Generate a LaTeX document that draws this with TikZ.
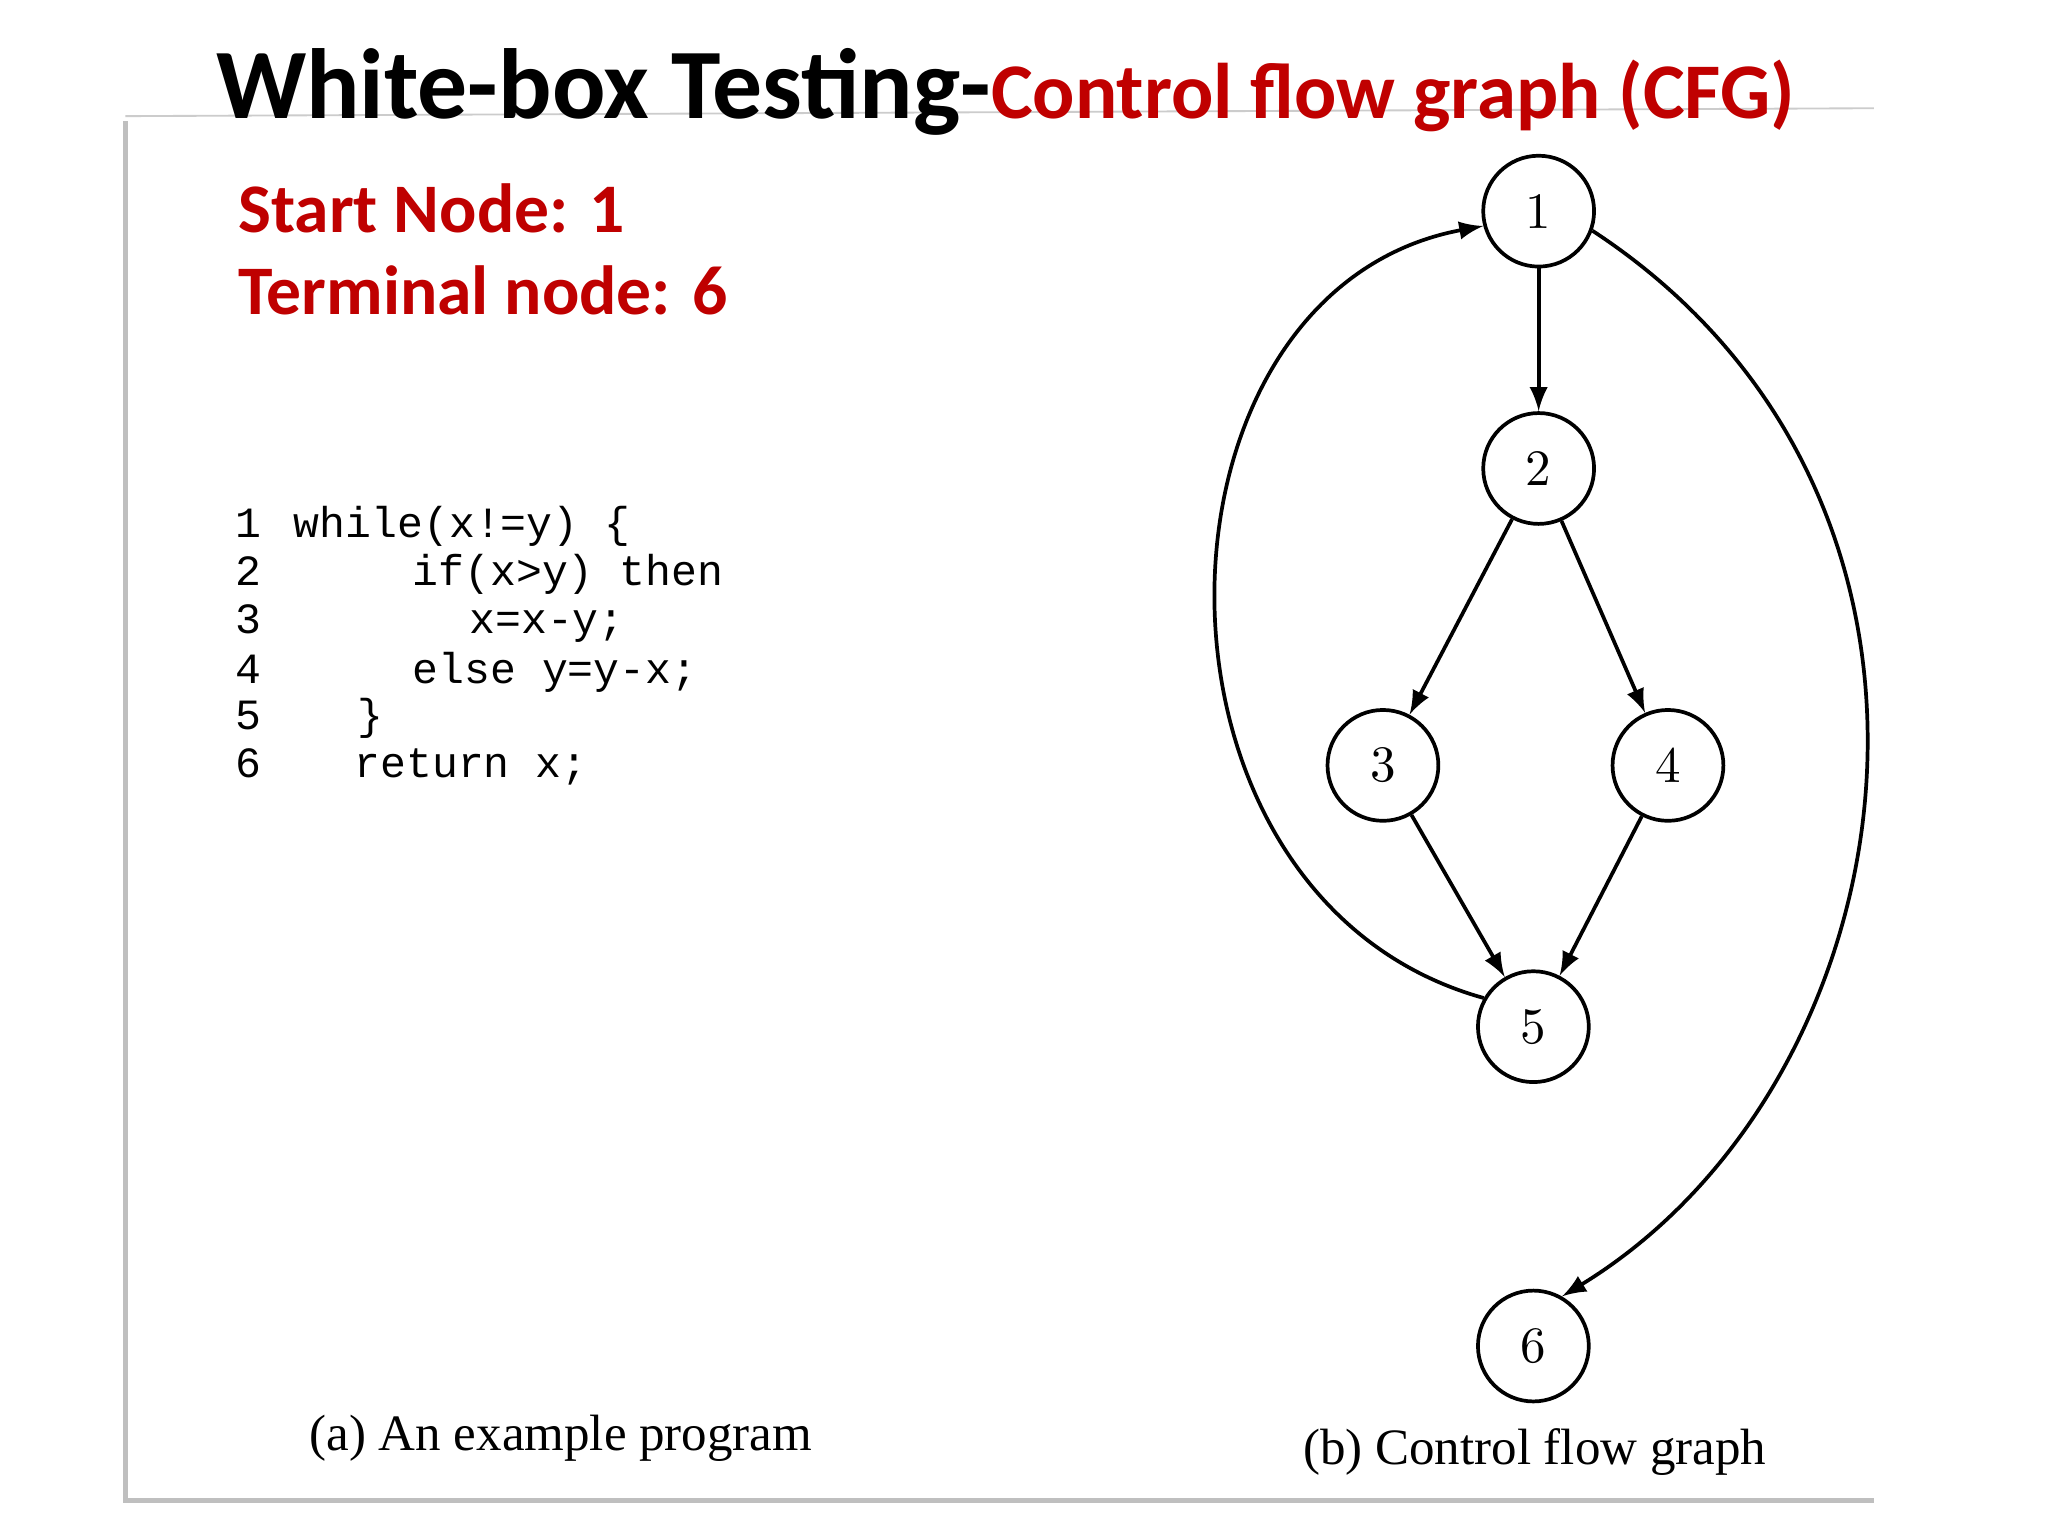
\documentclass[tikz,border=0pt]{standalone}
\usepackage{fontspec}
\setmainfont{Carlito}
\newfontfamily\codefont{Liberation Mono}
\newfontfamily\serifcap{Liberation Serif}
\newfontfamily\nodefont{Latin Modern Roman 10 Regular}
\begin{document}
\begin{tikzpicture}[x=0.1mm,y=-0.1mm,
  cnode/.style={circle,draw,thick,minimum size=84*0.1mm,inner sep=0pt,font=\nodefont\fontsize{11}{13}\selectfont},
  edge/.style={-latex,thick},
  codeline/.style={anchor=base west,inner sep=0pt,font=\codefont\fontsize{9.3}{11}\selectfont}]
\useasboundingbox[fill=white] (0,0) rectangle (1552,1164);
\draw[gray!50,line width=1.2pt] (95,92) -- (95,1137) -- (1420,1137);
\draw[gray!40] (95,88) -- (1420,82);
\node[anchor=base west,inner sep=0pt] (title) at (163,90) {\fontsize{21.5}{26}\selectfont\bfseries White-box Testing-\textcolor[RGB]{192,0,0}{\fontsize{17}{20}\selectfont Control flow graph (CFG)}};
\node[anchor=base west,inner sep=0pt,text=red!75!black,font=\fontsize{15}{18}\selectfont\bfseries] (s) at (180,176) {Start Node: 1};
\node[anchor=base west,inner sep=0pt,text=red!75!black,font=\fontsize{15}{18}\selectfont\bfseries] (t) at (180,238) {Terminal node: 6};
\foreach \n/\y/\x/\t in {1/407/222/{while(x!=y) \{},2/444/312/{if(x>y) then},3/480/355/{x=x-y;},4/518/312/{else y=y-x;},5/553/270/{\}},6/589/268/{return x;}}{
  \node[codeline] (n\n) at (178,\y) {\n};
  \node[codeline] (c\n) at (\x,\y) {\t};
}
\node[cnode] (a) at (1166,160) {1};
\node[cnode] (b) at (1166,355) {2};
\node[cnode] (c) at (1048,580) {3};
\node[cnode] (d) at (1264,580) {4};
\node[cnode] (e) at (1162,778) {5};
\node[cnode] (f) at (1162,1020) {6};
\draw[edge] (a) -- (b);
\draw[edge] (b) -- (c);
\draw[edge] (b) -- (d);
\draw[edge] (c) -- (e);
\draw[edge] (d) -- (e);
\draw[edge] (e.150) .. controls (850,680) and (860,220) .. (a.195);
\draw[edge] (a.-20) .. controls (1520,380) and (1450,820) .. (f.60);
\node[font=\serifcap\fontsize{11}{13}\selectfont] (ca) at (425,1090) {(a) An example program};
\node[font=\serifcap\fontsize{11}{13}\selectfont] (cb) at (1163,1100) {(b) Control flow graph};
\end{tikzpicture}
\end{document}
